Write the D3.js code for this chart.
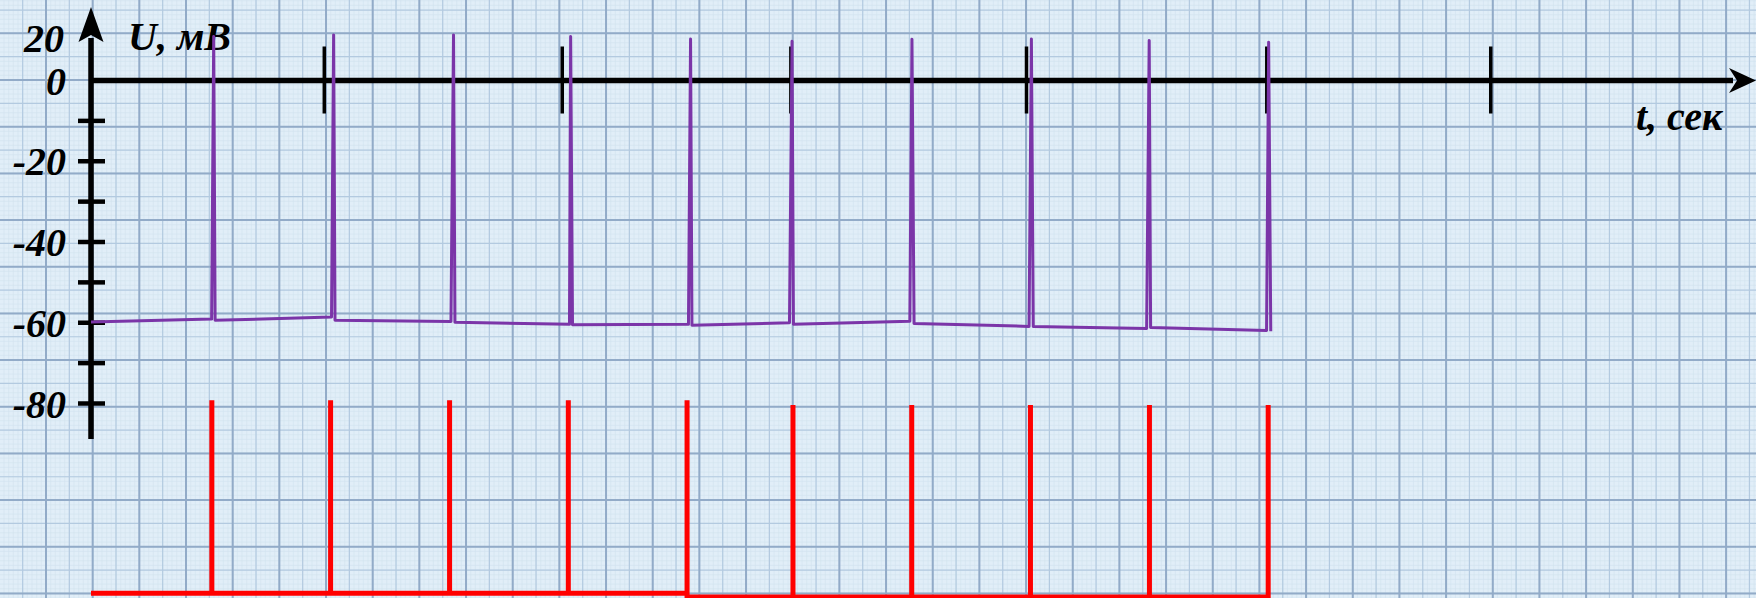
<!DOCTYPE html>
<html>
<head>
<meta charset="utf-8">
<script src="https://cdn.jsdelivr.net/npm/d3@7"></script>
<style>
  html, body { margin: 0; padding: 0; background: #e1eef8; overflow: hidden; }
  text { font-family: "Liberation Serif", "Times New Roman", serif; font-weight: bold; font-style: italic; fill: #000; }
</style>
</head>
<body>
<svg id="chart" width="1756" height="598"></svg>
<script>
// Membrane potential (mV): each action potential leaves the resting level at spikeUp,
// peaks at spikeTop and is back at rest at spikeDown (s)
const spikeUp    = [0.517, 1.031, 1.543, 2.051, 2.561, 2.994, 3.510, 4.021, 4.525, 5.039];
const spikeTop   = [0.526, 1.040, 1.554, 2.056, 2.570, 3.005, 3.519, 4.031, 4.536, 5.048];
const spikeDown  = [0.532, 1.046, 1.560, 2.064, 2.576, 3.011, 3.528, 4.039, 4.542, 5.057];
const spikePeak  = [10.9, 11.3, 11.3, 10.9, 10.3, 9.7, 10.2, 10.3, 9.9, 9.5];
const restStart  = -59.8;
const restBefore = [-59.1, -58.6, -59.7, -60.4, -60.4, -60.0, -59.6, -60.9, -61.4, -61.9];
const restAfter  = [-59.4, -59.4, -59.9, -60.5, -60.6, -60.4, -60.2, -60.9, -61.2, -62.1];

// Stimulus pulses drawn under the trace
const stimT    = [0.518, 1.027, 1.537, 2.046, 2.555, 3.009, 3.518, 4.027, 4.537, 5.046];
const stimTop  = [-79.2, -79.2, -79.2, -79.2, -79.2, -80.4, -80.4, -80.4, -80.4, -80.4];
const stimBase = [-127.0, -127.0, -127.0, -127.0, -127.0, -127.9, -127.9, -127.9, -127.9, -127.9];

// Axis ticks
const timeTicks = [1, 2.02, 3, 4.01, 5.04, 6];
const uTicks    = [-10, -20, -30, -40, -50, -60, -70, -80];
const uLabels   = [0, -20, -40, -60, -80];
const uTopLabel = "20";
const uTitle    = "U, мВ";
const tTitle    = "t, сек";

const W = 1756, H = 598;
const svg = d3.select("#chart");

const x = d3.scaleLinear().domain([0, 7.137]).range([91, 1756]);
const y = d3.scaleLinear().domain([0, -80]).range([80.5, 403.5]);

// ---- graph paper ----
const paper = svg.append("g");
paper.append("rect").attr("width", W).attr("height", H).attr("fill", "#e1eef8");
const cell = 46.67, x0 = -0.67, y0 = -13.3;
function lines(step, offset, limit) {
  const out = [];
  for (let v = offset; v <= limit + 1; v += step) if (v >= -1) out.push(v);
  return out;
}
const layers = [
  { step: cell / 10, color: "#d2e2ef", w: 0.6 },
  { step: cell / 2,  color: "#b3cae0", w: 1.2 },
  { step: cell,      color: "#92abc8", w: 2 }
];
layers.forEach(L => {
  paper.append("g").selectAll("line").data(lines(L.step, x0 - Math.floor(x0 / L.step) * L.step, W))
    .join("line").attr("x1", d => d).attr("x2", d => d).attr("y1", 0).attr("y2", H)
    .attr("stroke", L.color).attr("stroke-width", L.w);
  paper.append("g").selectAll("line").data(lines(L.step, y0 - Math.floor(y0 / L.step) * L.step, H))
    .join("line").attr("y1", d => d).attr("y2", d => d).attr("x1", 0).attr("x2", W)
    .attr("stroke", L.color).attr("stroke-width", L.w);
});

// ---- text labels ----
svg.append("g").selectAll("text").data(uLabels).join("text")
  .attr("x", 66).attr("y", d => y(d)).attr("dy", "0.35em")
  .attr("text-anchor", "end").attr("font-size", 40)
  .text(d => String(d));
svg.append("text").attr("x", 64).attr("y", y(10.5)).attr("dy", "0.35em")
  .attr("text-anchor", "end").attr("font-size", 40).text(uTopLabel);
svg.append("text").attr("x", 128).attr("y", 50).attr("font-size", 40).text(uTitle);
svg.append("text").attr("x", 1636).attr("y", 130).attr("font-size", 40).text(tTitle);

// ---- stimulus trace ----
const stimPts = [[0, stimBase[0]]];
stimT.forEach((t, i) => {
  stimPts.push([t, stimBase[i]], [t, stimTop[i]]);
  if (i < stimT.length - 1) stimPts.push([t, stimBase[i + 1]]);
});
const line = d3.line().x(d => x(d[0])).y(d => y(d[1]));
svg.append("path").attr("d", line(stimPts)).attr("fill", "none")
  .attr("stroke", "#ff0000").attr("stroke-width", 5).attr("stroke-linejoin", "miter");

// ---- axes ----
const axes = svg.append("g");
axes.append("line").attr("x1", x(0)).attr("x2", 1733).attr("y1", y(0)).attr("y2", y(0))
  .attr("stroke", "#000").attr("stroke-width", 5.5);
axes.append("path")
  .attr("d", `M1756,${y(0)} L1729,${y(0) - 12.5} L1737,${y(0)} L1729,${y(0) + 12.5} Z`)
  .attr("fill", "#000");
axes.append("line").attr("x1", x(0)).attr("x2", x(0)).attr("y1", y(-88.8)).attr("y2", 38)
  .attr("stroke", "#000").attr("stroke-width", 5.5);
axes.append("path")
  .attr("d", `M${x(0)},7 L${x(0) + 12.5},42 L${x(0)},35 L${x(0) - 12.5},42 Z`)
  .attr("fill", "#000");
axes.append("g").selectAll("line").data(uTicks).join("line")
  .attr("x1", x(0) - 13).attr("x2", x(0) + 14).attr("y1", d => y(d)).attr("y2", d => y(d))
  .attr("stroke", "#000").attr("stroke-width", 4.5);
axes.append("g").selectAll("line").data(timeTicks).join("line")
  .attr("x1", d => x(d)).attr("x2", d => x(d)).attr("y1", y(0) - 34).attr("y2", y(0) + 33)
  .attr("stroke", "#000").attr("stroke-width", 3.5);

// ---- membrane potential trace ----
const vPts = [[0, restStart]];
spikeUp.forEach((t, i) => {
  vPts.push([t, restBefore[i]], [spikeTop[i], spikePeak[i]], [spikeDown[i], restAfter[i]]);
});
svg.append("path").attr("d", line(vPts)).attr("fill", "none")
  .attr("stroke", "#7b35a8").attr("stroke-width", 3).attr("stroke-linejoin", "round");
</script>
</body>
</html>
